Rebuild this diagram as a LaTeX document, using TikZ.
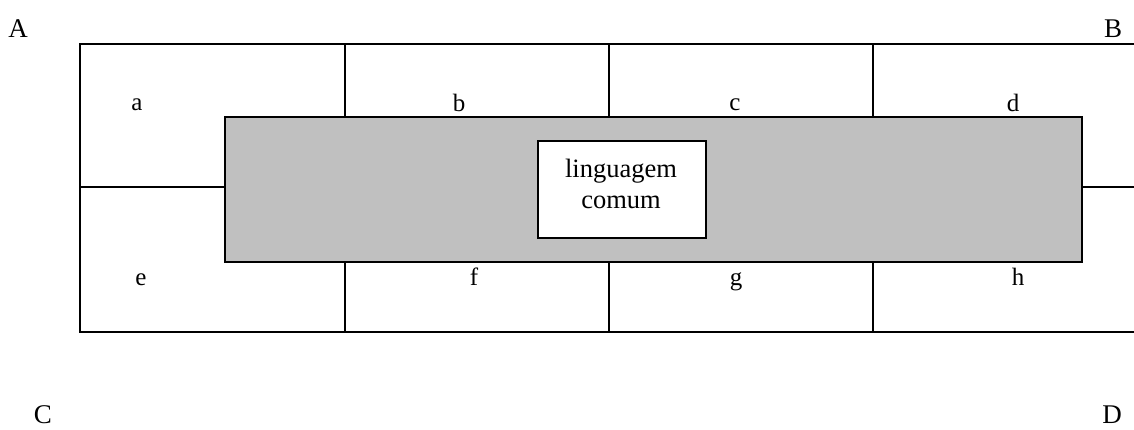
\documentclass[tikz,border=0pt]{standalone}
\usepackage{fontspec}
\setmainfont{Liberation Serif}
\begin{document}
\begin{tikzpicture}[x=1pt,y=-1pt,
  gridline/.style={line width=1.5pt,black},
  greybox/.style={draw=black,line width=2pt,fill={rgb,255:red,192;green,192;blue,192},inner sep=0pt,anchor=north west},
  whitebox/.style={draw=black,line width=2pt,fill=white,inner sep=0pt,anchor=north west},
  lbl/.style={font=\fontsize{27}{31}\selectfont,inner sep=0pt},
  cell/.style={font=\fontsize{25}{29}\selectfont,inner sep=0pt}]
\useasboundingbox (0,0) rectangle (1134,429);
% grid
\draw[gridline] (1134,44) -- (80,44) -- (80,332) -- (1134,332);
\draw[gridline] (80,187) -- (1134,187);
\foreach \xx in {345,609,873} \draw[gridline] (\xx,44) -- (\xx,332);
% grey band
\node[greybox,minimum width=857pt,minimum height=145pt] (band) at (224,116) {};
\node[whitebox,minimum width=168pt,minimum height=97pt] (lc) at (537,140) {};
\node[align=center,inner sep=0pt,font=\fontsize{26.5}{30.5}\selectfont] (lctext) at (621,184) {linguagem\\comum};
% corner labels
\node[lbl] (A) at (18,29) {A};
\node[lbl] (B) at (1113,29) {B};
\node[lbl] (C) at (43,415) {C};
\node[lbl] (D) at (1112,415) {D};
% cell labels
\node[cell] (a) at (137,105) {a};
\node[cell] (b) at (459,103) {b};
\node[cell] (c) at (735,105) {c};
\node[cell] (d) at (1013,103) {d};
\node[cell] (e) at (141,280) {e};
\node[cell] (f) at (474,277) {f};
\node[cell] (g) at (736,282) {g};
\node[cell] (h) at (1018,277) {h};
\end{tikzpicture}
\end{document}
